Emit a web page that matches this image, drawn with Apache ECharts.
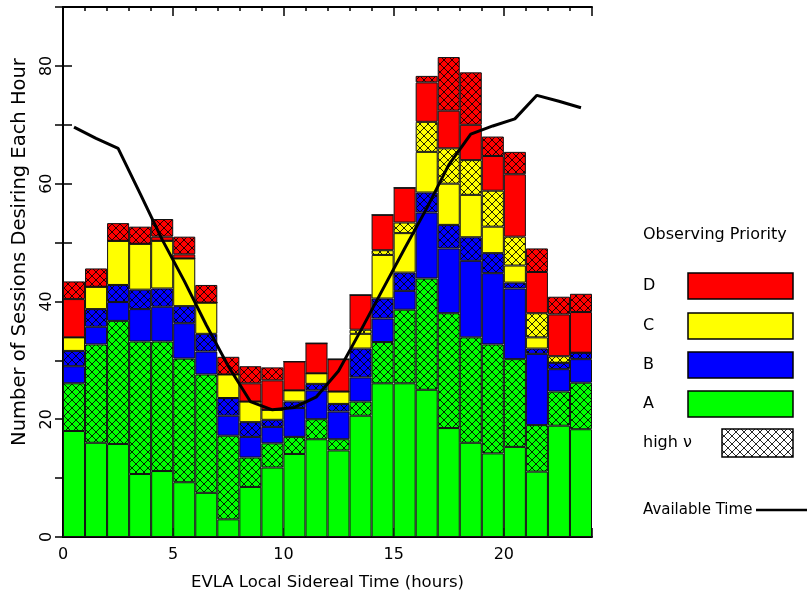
<!DOCTYPE html>
<html><head><meta charset="utf-8">
<script src="https://cdn.jsdelivr.net/npm/echarts@6/dist/echarts.min.js"></script>
<style>html,body{margin:0;padding:0;background:#fff}#c{width:807px;height:597px}</style>
</head><body><div id="c"></div>
<script>
// ---- data ----
const bins = ['0-1','1-2','2-3','3-4','4-5','5-6','6-7','7-8','8-9','9-10','10-11','11-12',
              '12-13','13-14','14-15','15-16','16-17','17-18','18-19','19-20','20-21','21-22','22-23','23-24'];
const prioA     = [18.0,16.0,15.8,10.7,11.2, 9.3, 7.5, 3.0, 8.5,11.8,14.1,16.6,14.7,20.6,26.1,26.1,25.0,18.5,16.0,14.2,15.3,11.1,18.9,18.3];
const prioAHigh = [ 8.1,16.7,20.9,22.5,22.0,21.0,20.1,14.2, 5.0, 4.1, 2.9, 3.4, 1.9, 2.4, 7.0,12.5,18.9,19.5,17.9,18.5,14.9, 7.9, 5.8, 7.9];
const prioB     = [ 2.9, 3.0, 3.2, 5.5, 5.9, 6.0, 3.9, 3.4, 3.5, 2.8, 4.9, 4.9, 4.7, 4.1, 4.0, 3.2,11.2,11.0,13.0,12.1,12.0,12.1, 3.8, 4.0];
const prioBHigh = [ 2.6, 3.0, 2.9, 3.3, 3.1, 2.9, 3.0, 3.0, 2.5, 1.2, 1.1, 1.1, 1.3, 4.9, 3.4, 3.1, 3.4, 4.0, 4.0, 3.4, 1.0, 0.9, 1.1, 1.1];
const prioC     = [ 2.3, 3.8, 7.5, 7.8, 8.1, 8.1, 5.3, 4.0, 3.5, 1.7, 1.9, 1.8, 2.1, 2.5, 7.4, 6.7, 6.9, 7.0, 7.2, 4.5, 2.9, 1.9, 0.0, 0.0];
const prioCHigh = [ 0.0, 0.0, 0.0, 0.0, 0.0, 0.0, 0.0, 0.0, 0.0, 0.0, 0.0, 0.0, 0.0, 0.7, 0.8, 1.8, 5.1, 6.0, 5.9, 6.1, 4.9, 4.1, 1.1, 0.0];
const prioD     = [ 6.5, 0.0, 0.0, 0.0, 0.7, 0.7, 0.0, 0.0, 3.1, 5.0, 4.9, 5.1, 5.5, 5.9, 6.0, 5.9, 6.7, 6.4, 6.0, 5.9,10.6, 7.0, 7.1, 6.9];
const prioDHigh = [ 3.0, 3.1, 3.0, 2.9, 3.0, 3.0, 3.0, 3.0, 2.9, 2.2, 0.0, 0.0, 0.0, 0.0, 0.0, 0.0, 1.1, 9.1, 8.9, 3.3, 3.8, 4.0, 3.0, 3.1];
const availHours = [0.5,1.5,2.5,3.5,4.5,5.5,6.5,7.5,8.5,9.5,10.5,11.5,12.5,13.5,14.5,15.5,16.5,17.5,18.5,19.5,20.5,21.5,22.5,23.5];
const availTime  = [69.6,67.7,66.0,58.3,50.5,43.5,36.0,29.0,23.0,21.6,22.0,23.8,28.2,35.0,42.0,49.0,55.8,63.2,68.4,69.8,71.0,75.0,74.0,72.9];
const legendLabels = ['D','C','B','A'];
const yTickLabels = [0,20,40,60,80];

// ---- styles ----
const FONT = 'DejaVu Sans';
const COL = {A:'#00ff00', B:'#0000ff', C:'#ffff00', D:'#ff0000'};
function hatch(bg){
  const s = 8, c = document.createElement('canvas');
  c.width = s; c.height = s;
  const g = c.getContext('2d');
  g.fillStyle = bg; g.fillRect(0,0,s,s);
  g.strokeStyle = 'rgba(0,0,0,0.85)'; g.lineWidth = 1;
  g.beginPath();
  g.moveTo(-1,-1); g.lineTo(s+1,s+1);
  g.moveTo(s+1,-1); g.lineTo(-1,s+1);
  g.stroke();
  return {image:c, repeat:'repeat'};
}
const layers = [
  {name:'A', data:prioA, fill:COL.A},
  {name:'A high', data:prioAHigh, fill:hatch(COL.A)},
  {name:'B', data:prioB, fill:COL.B},
  {name:'B high', data:prioBHigh, fill:hatch(COL.B)},
  {name:'C', data:prioC, fill:COL.C},
  {name:'C high', data:prioCHigh, fill:hatch(COL.C)},
  {name:'D', data:prioD, fill:COL.D},
  {name:'D high', data:prioDHigh, fill:hatch(COL.D)}
];
const series = layers.map(l => ({
  type:'bar', name:l.name, stack:'total', data:l.data,
  xAxisIndex:0, yAxisIndex:0, barCategoryGap:'0%',
  itemStyle:{color:l.fill, borderColor:'#111', borderWidth:1},
  emphasis:{disabled:true}
}));
series.push({
  type:'line', name:'Available Time', xAxisIndex:1, yAxisIndex:0,
  data: availHours.map((h,i)=>[h, availTime[i]]),
  symbol:'none', lineStyle:{color:'#000', width:3}, z:5
});

const axisLine = {show:true, lineStyle:{color:'#000', width:2}};
const txt = {color:'#000', fontFamily:FONT, fontSize:16};

const legendY = [286, 326, 365, 404];
const graphic = [
  {type:'text', x:643, y:235, style:{text:'Observing Priority', fill:'#000', font:'16px "DejaVu Sans"', verticalAlign:'middle'}}
];
legendLabels.forEach((lab,i)=>{
  graphic.push({type:'text', x:643, y:legendY[i], style:{text:lab, fill:'#000', font:'16px "DejaVu Sans"', verticalAlign:'middle'}});
  graphic.push({type:'rect', shape:{x:688, y:legendY[i]-13, width:105, height:26},
    style:{fill:COL[lab], stroke:'#000', lineWidth:1.5}});
});
graphic.push({type:'text', x:643, y:443, style:{text:'high ν', fill:'#000', font:'16px "DejaVu Sans"', verticalAlign:'middle'}});
graphic.push({type:'rect', shape:{x:722, y:429, width:71, height:28}, style:{fill:hatch('#ffffff'), stroke:'#000', lineWidth:1.5}});
graphic.push({type:'text', x:643, y:510, style:{text:'Available Time', fill:'#000', font:'15px "DejaVu Sans"', verticalAlign:'middle'}});
graphic.push({type:'line', shape:{x1:756, y1:510, x2:807, y2:510}, style:{stroke:'#000', lineWidth:2.5}});

const option = {
  animation:false,
  backgroundColor:'#fff',
  grid:{left:63, right:215, top:7, bottom:60},
  xAxis:[
    {type:'category', data:bins, show:false},
    {type:'value', min:0, max:24, interval:5, position:'bottom',
     axisLine, axisTick:{inside:true, length:9, lineStyle:{color:'#000', width:1.5}},
     axisLabel:Object.assign({margin:10, formatter:v=> v===24 ? '' : String(v)}, txt),
     splitLine:{show:false},
     name:'EVLA Local Sidereal Time (hours)', nameLocation:'middle', nameGap:37,
     nameTextStyle:Object.assign({}, txt, {fontSize:16.5})},
    {type:'value', min:0, max:24, interval:5, position:'top',
     axisLine, axisTick:{inside:true, length:9, lineStyle:{color:'#000', width:1.5}},
     axisLabel:{show:false}, splitLine:{show:false}},
    {type:'value', min:0, max:24, interval:1, position:'top',
     axisLine:{show:false}, axisTick:{inside:true, length:4, lineStyle:{color:'#000', width:1.5}},
     axisLabel:{show:false}, splitLine:{show:false}}
  ],
  yAxis:[
    {type:'value', min:0, max:90, interval:10, position:'left',
     axisLine, axisTick:{inside:true, length:9, lineStyle:{color:'#000', width:1.5}},
     axisLabel:Object.assign({rotate:90, margin:8, formatter:v=> yTickLabels.includes(v) ? String(v) : ''}, txt),
     splitLine:{show:false},
     name:'Number of Sessions Desiring Each Hour', nameLocation:'middle', nameRotate:90, nameGap:33,
     nameTextStyle:Object.assign({}, txt, {fontSize:19.5, padding:[0,0,0,40]})},
    {type:'value', min:0, max:90, interval:10, position:'right',
     axisLine, axisTick:{inside:true, length:8, lineStyle:{color:'#000', width:1.5}},
     axisLabel:{show:false}, splitLine:{show:false}}
  ],
  series,
  graphic
};
const chart = echarts.init(document.getElementById('c'), null, {renderer:'canvas'});
chart.setOption(option);
</script>
</body></html>
